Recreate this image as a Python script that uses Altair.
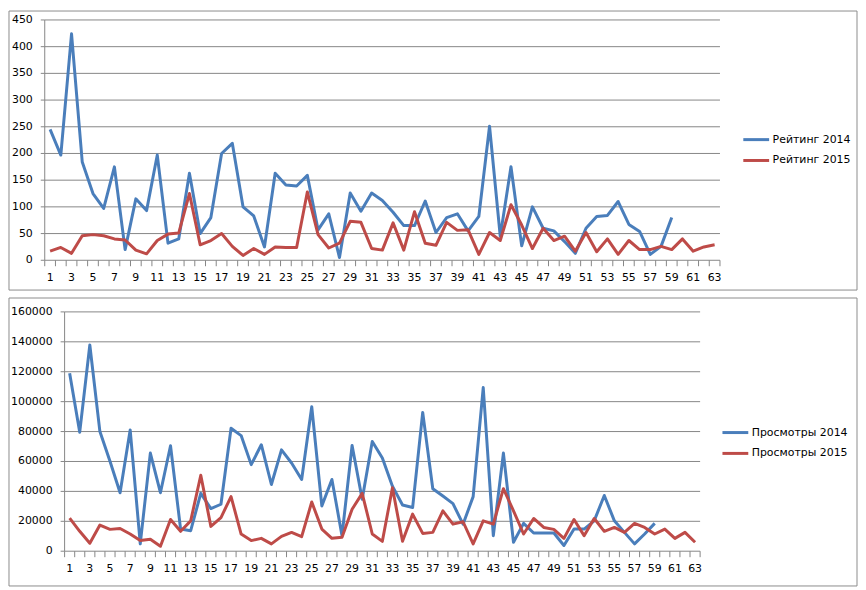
import altair as alt
import pandas as pd

weeks = list(range(1, 64))

rating_2014 = [245, 197, 424, 184, 125, 97, 175, 20, 115, 93,
               197, 32, 40, 163, 50, 80, 200, 219, 100, 83,
               25, 163, 141, 139, 159, 57, 87, 5, 126, 92,
               126, 112, 90, 65, 65, 111, 52, 80, 87, 55,
               82, 251, 45, 175, 27, 100, 60, 55, 35, 13,
               60, 82, 84, 110, 67, 54, 11, 26, 80]
rating_2015 = [17, 24, 13, 46, 48, 46, 40, 38, 19, 12,
               37, 49, 51, 125, 29, 37, 50, 26, 9, 22,
               11, 25, 24, 24, 128, 48, 23, 32, 73, 71,
               22, 19, 70, 19, 91, 32, 28, 71, 56, 57,
               11, 52, 37, 104, 66, 22, 60, 37, 45, 17,
               52, 16, 40, 11, 37, 20, 20, 26, 20, 40,
               17, 25, 29]
views_2014 = [119000, 79600, 137900, 80000, 60100, 39100, 81100, 4900, 65600, 39100,
              70500, 14800, 13700, 38700, 28500, 31400, 82200, 77300, 57900, 71200,
              44600, 67800, 59000, 48000, 96600, 30300, 48000, 10400, 70700, 34700,
              73400, 62300, 43500, 30900, 29200, 92800, 41800, 36900, 31800, 18100,
              36500, 109400, 10400, 65600, 6000, 18600, 12200, 12200, 12200, 3800,
              14800, 14800, 20300, 37300, 20300, 12600, 4900, 11500, 18600]
views_2015 = [22100, 13300, 5300, 17500, 14600, 15200, 11500, 7100, 8000, 3300,
              21200, 13300, 20300, 50800, 16600, 22500, 36500, 11500, 7100, 8600,
              4900, 9900, 12600, 9700, 32900, 14800, 8600, 9300, 28100, 38700,
              11500, 6600, 42400, 6600, 24800, 11900, 12600, 27000, 18100, 19700,
              4900, 20300, 18100, 41800, 27000, 11500, 21900, 15900, 14600, 8600,
              21200, 10400, 21900, 13300, 15900, 12600, 18600, 15900, 11500, 14800,
              8600, 12600, 6000]

rating_names = ["Рейтинг 2014", "Рейтинг 2015"]
views_names = ["Просмотры 2014", "Просмотры 2015"]
rating_ticks = list(range(0, 451, 50))
views_ticks = list(range(0, 160001, 20000))
x_label_weeks = [w for w in weeks if w % 2 == 1]
x_tick_bounds = [w - 0.5 for w in weeks] + [63.5]

BLUE = "#4A7EBB"
RED = "#BE4B48"
GRID = "#868686"
FONT = "DejaVu Sans"


def long_frame(a, b, names):
    return pd.DataFrame({
        "week": weeks[:len(a)] + weeks[:len(b)],
        "value": a + b,
        "series": [names[0]] * len(a) + [names[1]] * len(b),
    })


def panel(df, names, yticks, xrange, width, height, border, legend_xy):
    ymax = yticks[-1]
    xs = alt.Scale(domain=[0.5, 63.5], nice=False, zero=False, range=list(xrange))
    ys = alt.Scale(domain=[0, ymax], nice=False)
    x0, x1 = xrange

    frame = alt.Chart(pd.DataFrame({"a": [0]})).mark_rect(
        fillOpacity=0, stroke="#8C8C8C", strokeWidth=1
    ).encode(
        x=alt.value(border[0]), x2=alt.value(border[1]),
        y=alt.value(border[2]), y2=alt.value(border[3]),
    )
    ydf = pd.DataFrame({"g": yticks, "lab": [str(v) for v in yticks]})
    grid = alt.Chart(ydf).mark_rule(color=GRID, strokeWidth=1).encode(
        y=alt.Y("g:Q", scale=ys, axis=None),
        x=alt.value(x0), x2=alt.value(x1),
    )
    ydomain = alt.Chart(pd.DataFrame({"a": [0]})).mark_rule(color=GRID, strokeWidth=1).encode(
        x=alt.value(x0), y=alt.value(0), y2=alt.value(height),
    )
    yticks_m = alt.Chart(ydf).mark_rule(color=GRID, strokeWidth=1).encode(
        y=alt.Y("g:Q", scale=ys, axis=None),
        x=alt.value(x0 - 4), x2=alt.value(x0),
    )
    ylabels = alt.Chart(ydf).mark_text(
        align="right", baseline="middle", font=FONT, fontSize=11, color="black"
    ).encode(
        y=alt.Y("g:Q", scale=ys, axis=None),
        x=alt.value(x0 - 12),
        text="lab:N",
    )
    xticks_m = alt.Chart(pd.DataFrame({"b": x_tick_bounds})).mark_rule(
        color=GRID, strokeWidth=1
    ).encode(
        x=alt.X("b:Q", scale=xs, axis=None),
        y=alt.value(height), y2=alt.value(height + 6),
    )
    xlabels = alt.Chart(pd.DataFrame({"w": x_label_weeks,
                                      "lab": [str(w) for w in x_label_weeks]})).mark_text(
        align="center", baseline="middle", font=FONT, fontSize=11, color="black"
    ).encode(
        x=alt.X("w:Q", scale=xs, axis=None),
        y=alt.value(height + 18),
        text="lab:N",
    )
    lines = alt.Chart(df).mark_line(strokeWidth=3, strokeJoin="round").encode(
        x=alt.X("week:Q", scale=xs, axis=None),
        y=alt.Y("value:Q", scale=ys, axis=None),
        color=alt.Color("series:N", scale=alt.Scale(domain=names, range=[BLUE, RED]),
                        legend=alt.Legend(orient="none", legendX=legend_xy[0], legendY=legend_xy[1],
                                          title=None, symbolType="stroke", symbolSize=676,
                                          symbolStrokeWidth=3, labelFont=FONT, labelFontSize=11,
                                          labelColor="black", labelOffset=2, padding=0,
                                          rowPadding=-2)),
    )
    return alt.layer(frame, grid, ydomain, yticks_m, ylabels, xticks_m, xlabels, lines).properties(
        width=width, height=height
    )


# both panels share the same plot origin; the upper panel's axis starts
# 20 px further left, as in the original
top = panel(long_frame(rating_2014, rating_2015, rating_names), rating_names,
            rating_ticks, (-20, 660), 660, 242, (-56, 798, -9, 272), (682, 106))
bottom = panel(long_frame(views_2014, views_2015, views_names), views_names,
               views_ticks, (0, 640), 640, 241, (-56, 798, -14, 276), (661, 107))

chart = alt.vconcat(top, bottom, spacing=6).resolve_scale(
    color="independent"
).properties(padding=0).configure_view(strokeOpacity=0)

chart.save("out.html", embed_options={"renderer": "svg", "actions": False})
